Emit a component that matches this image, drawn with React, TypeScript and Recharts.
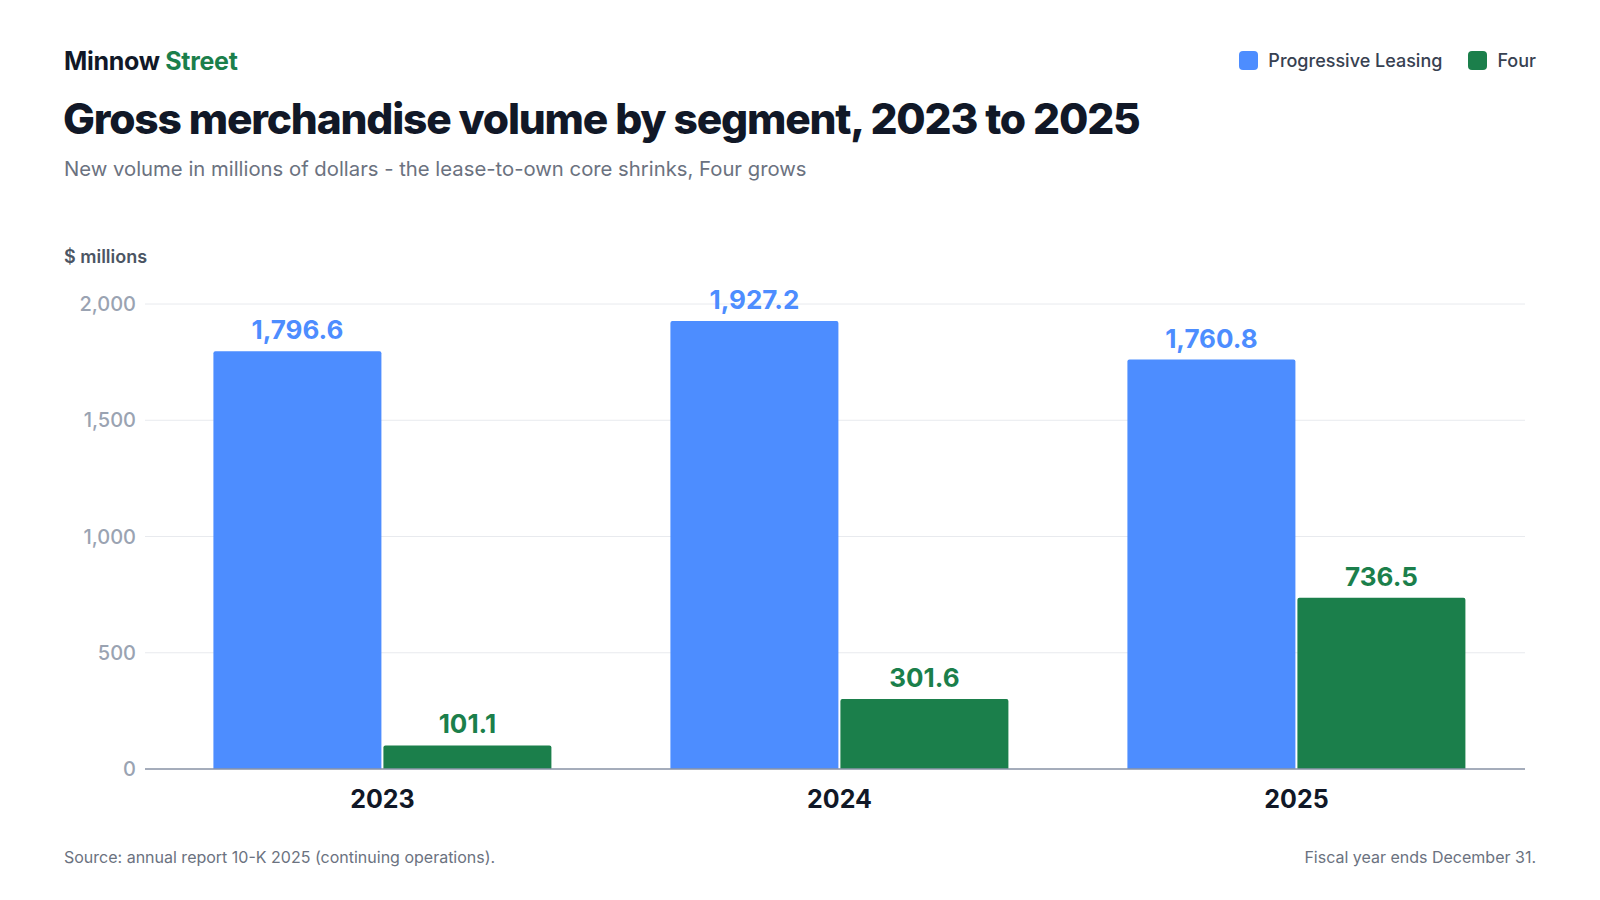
import { Bar, BarChart, CartesianGrid, LabelList, XAxis, YAxis } from "recharts";

const years = ["2023", "2024", "2025"];
const progressive = [1796.6, 1927.2, 1760.8];
const four = [101.1, 301.6, 736.5];
const yTicks = [0, 500, 1000, 1500, 2000];

const BLUE = "#4d8dff";
const GREEN = "#1b7f4b";
const INK = "#111827";
const MUTED = "#6b7280";

const data = years.map((year, i) => ({ year, progressive: progressive[i], four: four[i] }));

const fmt = (v: number) => v.toLocaleString("en-US", { minimumFractionDigits: 1, maximumFractionDigits: 1 });

export default function App() {
  return (
    <div style={{ position: "absolute", left: 0, top: 0, width: 1600, height: 900, background: "#fff", fontFamily: "Inter, sans-serif", overflow: "hidden" }}>
      <BarChart
        width={1600}
        height={900}
        data={data}
        margin={{ top: 304, right: 75, bottom: 101, left: 0 }}
        barCategoryGap="13%"
        barGap={2}
      >
        <CartesianGrid vertical={false} stroke="#e8eaee" />
        <YAxis
          width={145}
          domain={[0, 2000]}
          ticks={yTicks}
          tickFormatter={(v: number) => v.toLocaleString("en-US")}
          axisLine={false}
          tickLine={false}
          tickMargin={3}
          tick={{ fill: "#9aa3b2", fontSize: 20, fontWeight: 500 }}
        />
        <XAxis
          dataKey="year"
          tickLine={false}
          padding={{ left: 9, right: 0 }}
          axisLine={{ stroke: "#8b95a7", strokeWidth: 1.5 }}
          tickMargin={15}
          tick={{ fill: INK, fontSize: 25, fontWeight: 700 }}
        />
        <Bar dataKey="progressive" fill={BLUE} radius={[2, 2, 0, 0]} isAnimationActive={false}>
          <LabelList dataKey="progressive" position="top" offset={12} formatter={fmt} style={{ fill: BLUE, fontSize: 26, fontWeight: 700 }} />
        </Bar>
        <Bar dataKey="four" fill={GREEN} radius={[2, 2, 0, 0]} isAnimationActive={false}>
          <LabelList dataKey="four" position="top" offset={12} formatter={fmt} style={{ fill: GREEN, fontSize: 26, fontWeight: 700 }} />
        </Bar>
      </BarChart>

      <div style={{ position: "absolute", left: 64, top: 46, fontSize: 25, fontWeight: 700, color: INK, letterSpacing: -0.3 }}>
        Minnow <span style={{ color: GREEN }}>Street</span>
      </div>
      <div style={{ position: "absolute", right: 64, top: 50, display: "flex", alignItems: "center", gap: 26, fontSize: 18, fontWeight: 500, color: "#374151" }}>
        <span style={{ display: "flex", alignItems: "center", gap: 10 }}>
          <span style={{ width: 19, height: 19, borderRadius: 4, background: BLUE }} />Progressive Leasing
        </span>
        <span style={{ display: "flex", alignItems: "center", gap: 10 }}>
          <span style={{ width: 19, height: 19, borderRadius: 4, background: GREEN }} />Four
        </span>
      </div>
      <div style={{ position: "absolute", left: 63, top: 93, fontSize: 42.5, fontWeight: 800, color: INK, letterSpacing: -1.2 }}>
        Gross merchandise volume by segment, 2023 to 2025
      </div>
      <div style={{ position: "absolute", left: 64, top: 156, fontSize: 20.3, color: MUTED }}>
        New volume in millions of dollars - the lease-to-own core shrinks, Four grows
      </div>
      <div style={{ position: "absolute", left: 64, top: 246, fontSize: 18, fontWeight: 600, color: "#4b5563" }}>$ millions</div>
      <div style={{ position: "absolute", left: 64, top: 847, fontSize: 16, color: MUTED }}>
        Source: annual report 10-K 2025 (continuing operations).
      </div>
      <div style={{ position: "absolute", right: 64, top: 847, fontSize: 16, color: MUTED }}>Fiscal year ends December 31.</div>
    </div>
  );
}
